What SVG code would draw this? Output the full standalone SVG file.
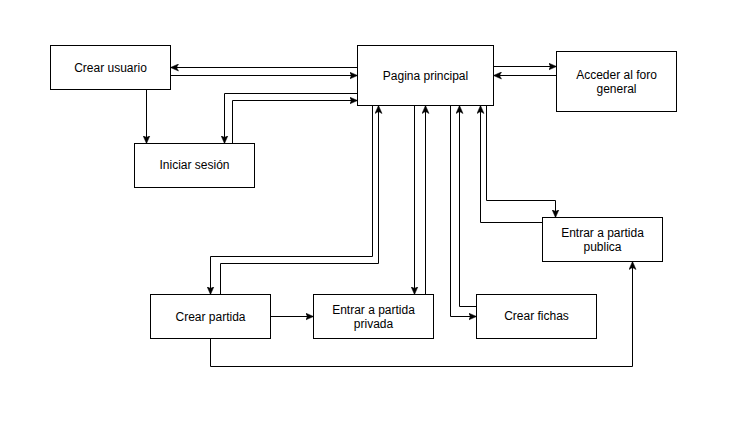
<svg xmlns="http://www.w3.org/2000/svg" width="753" height="447" viewBox="0 0 753 447">
  <style>
    .box { fill: #ffffff; stroke: #000000; stroke-width: 1; }
    .lbl { font-family: "Liberation Sans", Arial, Helvetica, sans-serif; font-size: 12px; fill: #000000; text-anchor: middle; }
    .edge { fill: none; stroke: #000000; stroke-width: 1; marker-end: url(#arrow); }
  </style>
  <defs>
    <marker id="arrow" viewBox="0 0 8 8" refX="8" refY="4" markerWidth="8" markerHeight="8" markerUnits="userSpaceOnUse" orient="auto">
      <path d="M0,0.5 L8,4 L0,7.5 L2,4 Z" fill="#000000" stroke="#000000" stroke-width="0.5"/>
    </marker>
  </defs>
  <rect width="753" height="447" fill="#ffffff"/>
  <g id="connectors">
    <path class="edge" d="M357.5,67.5 L170.5,67.5"/>
    <path class="edge" d="M170.5,75.5 L357.5,75.5"/>
    <path class="edge" d="M493.5,66.5 L556.5,66.5"/>
    <path class="edge" d="M556.5,75.5 L493.5,75.5"/>
    <path class="edge" d="M146.5,89.5 L146.5,143.5"/>
    <path class="edge" d="M357.5,93.5 L224.5,93.5 L224.5,143.5"/>
    <path class="edge" d="M232.5,143.5 L232.5,100.5 L357.5,100.5"/>
    <path class="edge" d="M372.5,105.5 L372.5,256.5 L210.5,256.5 L210.5,294.5"/>
    <path class="edge" d="M220.5,294.5 L220.5,263.5 L378.5,263.5 L378.5,105.5"/>
    <path class="edge" d="M414.5,105.5 L414.5,294.5"/>
    <path class="edge" d="M425.5,294.5 L425.5,105.5"/>
    <path class="edge" d="M270.5,316.5 L313.5,316.5"/>
    <path class="edge" d="M210.5,338.5 L210.5,366.5 L632.5,366.5 L632.5,261.5"/>
    <path class="edge" d="M450.5,105.5 L450.5,316.5 L476.5,316.5"/>
    <path class="edge" d="M476.5,306.5 L459.5,306.5 L459.5,105.5"/>
    <path class="edge" d="M486.5,105.5 L486.5,200.5 L555.5,200.5 L555.5,217.5"/>
    <path class="edge" d="M542.5,222.5 L480.5,222.5 L480.5,105.5"/>
  </g>
  <g id="crear-usuario">
    <rect class="box" x="50.5" y="45.5" width="120" height="44"/>
    <text class="lbl" x="110.5" y="72">Crear usuario</text>
  </g>
  <g id="pagina-principal">
    <rect class="box" x="357.5" y="45.5" width="136" height="60"/>
    <text class="lbl" x="425.5" y="80">Pagina principal</text>
  </g>
  <g id="acceder-foro">
    <rect class="box" x="556.5" y="51.5" width="120" height="60"/>
    <text class="lbl" x="616.5" y="79">Acceder al foro</text>
    <text class="lbl" x="616.5" y="93">general</text>
  </g>
  <g id="iniciar-sesion">
    <rect class="box" x="134.5" y="143.5" width="120" height="44"/>
    <text class="lbl" x="194.5" y="169">Iniciar sesión</text>
  </g>
  <g id="crear-partida">
    <rect class="box" x="150.5" y="294.5" width="120" height="44"/>
    <text class="lbl" x="210.5" y="321">Crear partida</text>
  </g>
  <g id="entrar-privada">
    <rect class="box" x="313.5" y="294.5" width="120" height="44"/>
    <text class="lbl" x="373.5" y="314">Entrar a partida</text>
    <text class="lbl" x="373.5" y="328">privada</text>
  </g>
  <g id="entrar-publica">
    <rect class="box" x="542.5" y="217.5" width="120" height="44"/>
    <text class="lbl" x="602.5" y="237">Entrar a partida</text>
    <text class="lbl" x="602.5" y="251">publica</text>
  </g>
  <g id="crear-fichas">
    <rect class="box" x="476.5" y="294.5" width="120" height="44"/>
    <text class="lbl" x="536.5" y="320">Crear fichas</text>
  </g>
</svg>
